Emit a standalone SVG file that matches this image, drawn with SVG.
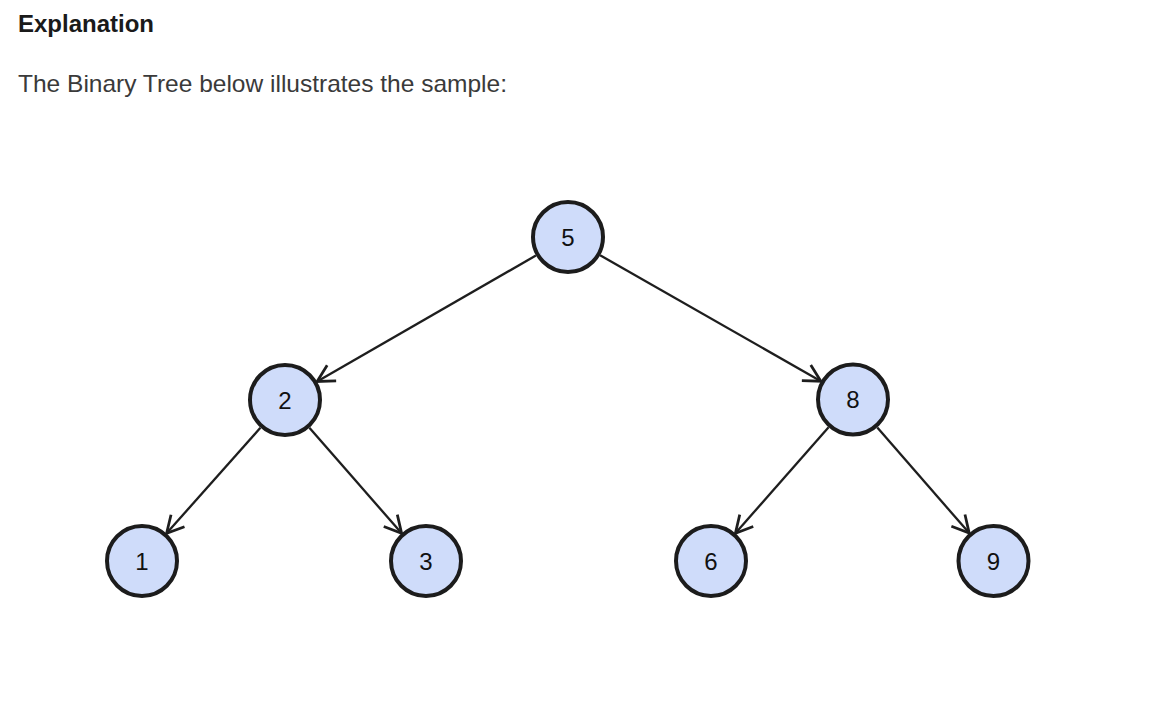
<svg xmlns="http://www.w3.org/2000/svg" width="1150" height="712" viewBox="0 0 1150 712">
  <style>
    .node circle { fill: #cfdcfa; stroke: #1c1c1c; stroke-width: 4; }
    .node text { font-family: "Liberation Sans", Arial, sans-serif; font-size: 24px; fill: #111; text-anchor: middle; }
    .edge { stroke: #1e1e1e; stroke-width: 2.3; fill: none; marker-end: url(#arrow); }
    .h1 { font-family: "Liberation Sans", Arial, sans-serif; font-weight: bold; font-size: 24px; fill: #1a1a1a; }
    .p { font-family: "Liberation Sans", Arial, sans-serif; font-size: 24px; fill: #3a3a3a; }
  </style>
  <defs>
    <marker id="arrow" markerUnits="userSpaceOnUse" markerWidth="24" markerHeight="24" refX="0" refY="0" viewBox="-16 -10 18 20" orient="auto">
      <path d="M-14,-7.5 L0,0 L-14,7.5" fill="none" stroke="#1e1e1e" stroke-width="2.3"/>
    </marker>
  </defs>
  <rect width="1150" height="712" fill="#ffffff"/>
  <text class="h1" x="18" y="32">Explanation</text>
  <text class="p" x="18" y="92" textLength="489" lengthAdjust="spacingAndGlyphs">The Binary Tree below illustrates the sample:</text>

  <g id="connectors">
    <line class="edge" x1="535.9" y1="255.5" x2="317.1" y2="381.5"/>
    <line class="edge" x1="600.1" y1="255.3" x2="820.9" y2="381.2"/>
    <line class="edge" x1="260.4" y1="427.7" x2="166.6" y2="533.3"/>
    <line class="edge" x1="309.4" y1="427.8" x2="401.6" y2="533.2"/>
    <line class="edge" x1="828.6" y1="427.3" x2="735.4" y2="533.2"/>
    <line class="edge" x1="877.3" y1="427.4" x2="969.2" y2="533.1"/>
  </g>

  <g id="node5" class="node"><circle cx="568" cy="237" r="35"/><text x="568" y="245.5" font-size="24">5</text></g>
  <g id="node2" class="node"><circle cx="285" cy="400" r="35"/><text x="285" y="408.5" font-size="24">2</text></g>
  <g id="node8" class="node"><circle cx="853" cy="399.5" r="35"/><text x="853" y="408" font-size="24">8</text></g>
  <g id="node1" class="node"><circle cx="142" cy="561" r="35"/><text x="142" y="569.5" font-size="24">1</text></g>
  <g id="node3" class="node"><circle cx="426" cy="561" r="35"/><text x="426" y="569.5" font-size="24">3</text></g>
  <g id="node6" class="node"><circle cx="711" cy="561" r="35"/><text x="711" y="569.5" font-size="24">6</text></g>
  <g id="node9" class="node"><circle cx="993.5" cy="561" r="35"/><text x="993.5" y="569.5" font-size="24">9</text></g>
</svg>
